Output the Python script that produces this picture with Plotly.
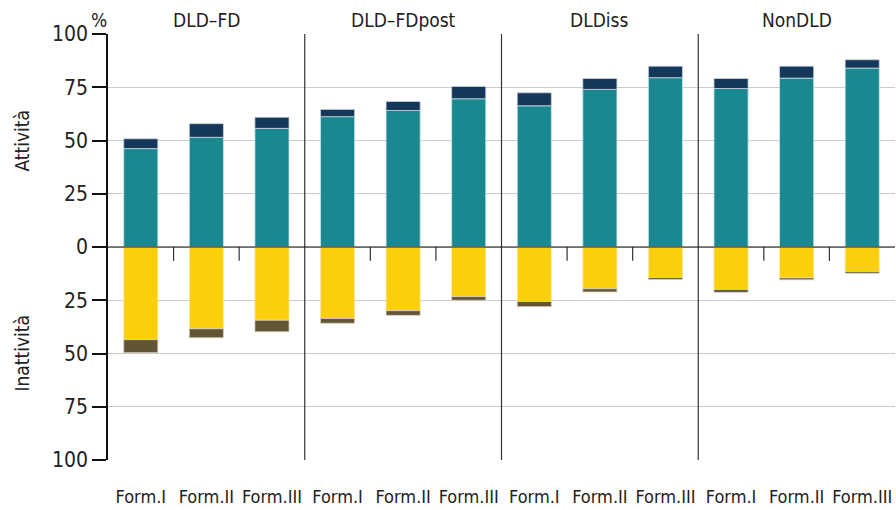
import plotly.graph_objects as go

groups = ["DLD\u2013FD", "DLD\u2013FDpost", "DLDiss", "NonDLD"]
forms = ["Form.I", "Form.II", "Form.III"]

# Attività (positive): occupati (teal) + in cerca (navy)
occupati = [46.2, 51.5, 55.7, 61.2, 64.1, 69.6, 66.3, 74.0, 79.5, 74.4, 79.3, 84.0]
disoccupati = [4.6, 6.4, 5.2, 3.4, 4.2, 5.8, 6.1, 5.1, 5.4, 4.7, 5.6, 3.9]
# Inattività (negative): yellow + brown
inattivi_a = [43.5, 38.4, 34.4, 33.6, 29.9, 23.3, 25.6, 19.6, 14.4, 20.0, 14.5, 11.5]
inattivi_b = [6.1, 4.2, 5.4, 2.2, 2.2, 1.7, 2.4, 1.5, 0.9, 1.3, 0.9, 0.8]

y_ticks = [100, 75, 50, 25, 0, -25, -50, -75, -100]

FONT = "Liberation Sans Narrow, DejaVu Sans Condensed, DejaVu Sans, sans-serif"
TEAL = "#1a8891"
NAVY = "#14375a"
YELLOW = "#fccf0d"
BROWN = "#635534"

n = len(groups) * len(forms)
xs = list(range(n))
xlabels = forms * len(groups)

fig = go.Figure()
bw = 0.52
fig.add_bar(x=xs, y=occupati, marker=dict(color=TEAL, line=dict(color="#c8e4e6", width=0.8)), width=bw, base=0)
fig.add_bar(x=xs, y=disoccupati, marker=dict(color=NAVY, line=dict(color="#c8d4df", width=0.8)), width=bw, base=occupati)
fig.add_bar(x=xs, y=[-v for v in inattivi_a], marker=dict(color=YELLOW, line=dict(color="#fbe9a8", width=0.8)), width=bw, base=0)
fig.add_bar(x=xs, y=[-v for v in inattivi_b], marker=dict(color=BROWN, line=dict(color="#d8d2c0", width=0.8)), width=bw,
            base=[-v for v in inattivi_a])

shapes = []
for g in range(1, len(groups)):
    xp = g * len(forms) - 0.5
    shapes.append(dict(type="line", xref="x", yref="paper", x0=xp, x1=xp, y0=0, y1=1,
                       line=dict(color="#333333", width=1.2)))
for g in range(len(groups)):
    for k in range(1, len(forms)):
        xp = g * len(forms) + k - 0.5
        shapes.append(dict(type="line", xref="x", yref="y", x0=xp, x1=xp, y0=0, y1=-6.5,
                           line=dict(color="#333333", width=1.2)))
shapes.append(dict(type="line", xref="paper", yref="y", x0=0, x1=1, y0=0, y1=0,
                   line=dict(color="#111111", width=1.2)))

tf = dict(size=19, color="#222", family=FONT)
annotations = []
for g, name in enumerate(groups):
    annotations.append(dict(x=g * len(forms) + 1, y=1.0, xref="x", yref="paper", yshift=14,
                            text=name, showarrow=False, font=tf, yanchor="middle"))
annotations.append(dict(x=0, y=1.0, xref="paper", yref="paper", yshift=14, xshift=1, text="%",
                        showarrow=False, font=tf, xanchor="right", yanchor="middle"))
annotations.append(dict(x=-0.108, y=50, xref="paper", yref="y", xshift=-15, text="Attività", textangle=-90,
                        showarrow=False, font=tf))
annotations.append(dict(x=-0.108, y=-50, xref="paper", yref="y", xshift=-15, text="Inattività", textangle=-90,
                        showarrow=False, font=tf))

fig.update_layout(
    width=896, height=510,
    margin=dict(l=108, r=1, t=34, b=50),
    barmode="overlay",
    showlegend=False,
    plot_bgcolor="white", paper_bgcolor="white",
    font=dict(family=FONT, size=18, color="#222"),
    shapes=shapes, annotations=annotations,
    xaxis=dict(range=[-0.5, n - 0.5], tickmode="array", tickvals=xs, ticktext=xlabels,
               showgrid=False, zeroline=False, showline=False, ticks="",
               tickfont=dict(size=18, family=FONT), ticklabelstandoff=24,
               automargin=False),
    yaxis=dict(range=[-100, 100], tickmode="array", tickvals=y_ticks,
               ticktext=[str(abs(v)) for v in y_ticks],
               showgrid=True, gridcolor="#cccccc", gridwidth=1.2, zeroline=False,
               showline=True, linecolor="#111111", linewidth=1.5,
               ticks="outside", ticklen=14, tickcolor="#111111", tickwidth=1.5,
               tickfont=dict(size=21, family=FONT), automargin=False),
)

fig.write_html(
    "out.html",
    config={"displayModeBar": False},
    post_script=(
        "document.body.style.margin='0';document.body.style.padding='0';"
        "var s=document.createElement('style');"
        "s.textContent='svg text{font-stretch:condensed !important;}';"
        "document.head.appendChild(s);"
    ),
)
